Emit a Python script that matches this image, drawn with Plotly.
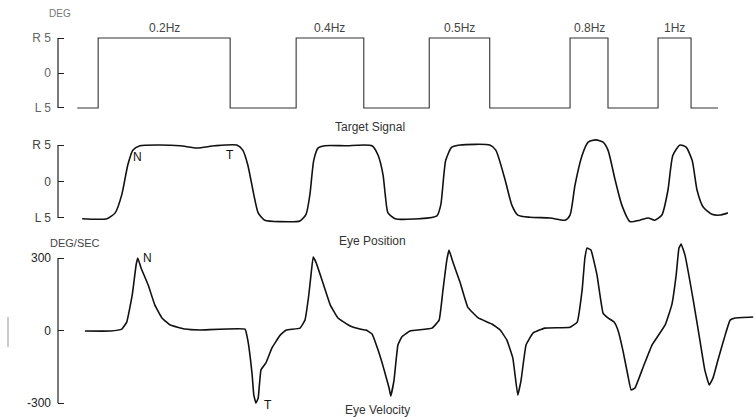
import plotly.graph_objects as go

# ---- data (time in seconds) ----
freq_labels = ["0.2Hz", "0.4Hz", "0.5Hz", "0.8Hz", "1Hz"]

target_t = [0.35, 0.73, 3.13, 4.33, 5.56, 6.75, 7.85, 9.31, 10.0, 10.91, 11.51, 12.0]
target_deg = [-5, 5, -5, 5, -5, 5, -5, 5, -5, 5, -5, -5]

pos_t = [0.44, 0.89, 1.04, 1.16, 1.27, 1.36, 1.49, 1.85, 2.22, 2.53, 2.85, 3.25, 3.36, 3.45,
         3.56, 3.64, 3.76, 4.04, 4.40, 4.51, 4.58, 4.65, 4.73, 4.85, 5.22, 5.71, 5.82, 5.91,
         5.95, 6.00, 6.13, 6.58, 6.89, 6.96, 7.05, 7.16, 7.31, 7.85, 7.96, 8.13, 8.25, 8.36,
         8.58, 8.95, 9.22, 9.31, 9.40, 9.53, 9.64, 9.78, 9.91, 10.0, 10.13, 10.25, 10.40,
         10.58, 10.73, 10.85, 10.98, 11.09, 11.18, 11.31, 11.42, 11.53, 11.62, 11.73, 11.89,
         12.04, 12.18]
pos_deg = [-5.1, -5.1, -4.3, -1.8, 2.3, 4.3, 4.9, 5.0, 4.9, 4.6, 4.9, 5.0, 4.3, 2.3,
           -1.8, -4.3, -5.3, -5.5, -5.4, -4.5, -1.8, 2.9, 4.6, 4.9, 4.9, 4.9, 3.6, 0.9,
           -1.8, -4.3, -5.1, -5.1, -4.7, -3.2, 2.9, 4.7, 5.0, 5.0, 4.3, 0.2, -3.2, -4.6,
           -4.9, -5.0, -5.3, -4.6, -0.5, 3.6, 5.4, 5.7, 5.4, 4.3, 0.2, -3.2, -5.5,
           -5.3, -5.0, -5.3, -4.6, -1.2, 3.6, 5.0, 4.7, 2.9, -1.2, -3.5, -4.5,
           -4.6, -4.3]

vel_t = [0.49, 0.95, 1.16, 1.25, 1.35, 1.42, 1.45, 1.51, 1.64, 1.76, 1.89, 2.04, 2.31, 2.58,
         3.40, 3.45, 3.53, 3.56, 3.60, 3.64, 3.69, 3.78, 3.89, 4.04, 4.15, 4.40, 4.49, 4.56,
         4.60, 4.64, 4.69, 4.80, 4.95, 5.09, 5.31, 5.49, 5.60, 5.71, 5.82, 5.93, 6.02, 6.05,
         6.11, 6.18, 6.25, 6.40, 6.80, 6.93, 7.00, 7.07, 7.11, 7.18, 7.31, 7.45, 7.64, 7.89,
         8.04, 8.16, 8.27, 8.36, 8.42, 8.51, 8.64, 8.85, 9.31, 9.44, 9.53, 9.58, 9.62, 9.69,
         9.80, 9.91, 10.0, 10.11, 10.18, 10.27, 10.36, 10.42, 10.49, 10.64, 10.80, 11.04,
         11.16, 11.24, 11.29, 11.33, 11.40, 11.55, 11.67, 11.76, 11.84, 11.91, 12.0, 12.13,
         12.22, 12.31, 12.64]
vel_dps = [-2, -2, 6, 35, 147, 271, 300, 259, 188, 106, 52, 23, 6, 2,
           6, -39, -184, -267, -300, -279, -163, -134, -72, -19, 2, 10, 43, 147,
           230, 304, 283, 209, 106, 52, 19, 6, 2, -14, -81, -163, -238, -271,
           -205, -60, -27, -2, 10, 43, 168, 292, 333, 283, 200, 97, 52, 27,
           2, -39, -114, -267, -205, -60, -10, 10, 14, 35, 168, 300, 341, 333,
           230, 72, 52, 35, 2, -81, -184, -246, -238, -151, -60, 23,
           106, 230, 341, 358, 312, 126, -39, -163, -225, -196, -122, -19,
           43, 52, 56]

deg_ticks = [-5, 0, 5]
deg_ticktext = ["L 5", "0", "R 5"]
vel_ticks = [-300, 0, 300]
vel_ticktext = ["-300", "0", "300"]

FONT = "Liberation Sans"

fig = go.Figure()
fig.add_trace(go.Scatter(x=target_t, y=target_deg, mode="lines", line_shape="hv",
                         line=dict(color="#333333", width=1.1), yaxis="y", xaxis="x"))
fig.add_trace(go.Scatter(x=pos_t, y=pos_deg, mode="lines", line_shape="spline",
                         line=dict(color="#111111", width=1.6, smoothing=0.6), yaxis="y2", xaxis="x"))
fig.add_trace(go.Scatter(x=vel_t, y=vel_dps, mode="lines", line_shape="spline",
                         line=dict(color="#111111", width=1.6, smoothing=0.3), yaxis="y3", xaxis="x"))

def yax(domain, rng, tv, tt, color):
    return dict(domain=domain, range=rng, anchor="x", tickmode="array", tickvals=tv,
                ticktext=tt, ticks="inside", ticklen=6, tickcolor="#222", tickwidth=1,
                showline=False, showgrid=False, zeroline=False, ticklabelstandoff=6,
                automargin=False,
                tickfont=dict(family=FONT, size=12, color=color))

fig.update_layout(
    width=755, height=420, margin=dict(l=58, r=0, t=0, b=0, autoexpand=False),
    paper_bgcolor="white", plot_bgcolor="white", showlegend=False,
    xaxis=dict(range=[0, 12.673], visible=False, anchor="y3", automargin=False),
    yaxis=yax([0.7379, 0.9145], [-5.3, 5.3], deg_ticks, deg_ticktext, "#666"),
    yaxis2=yax([0.4636, 0.6721], [-6, 6], deg_ticks, deg_ticktext, "#444"),
    yaxis3=yax([0.0231, 0.4260], [-330, 370], vel_ticks, vel_ticktext, "#222"),
)

# bracket-like axis lines between the end ticks
for yr, lo, hi in [("y", -5, 5), ("y2", -5, 5), ("y3", -300, 300)]:
    fig.add_shape(type="line", xref="paper", yref=yr, x0=0, x1=0, y0=lo, y1=hi,
                  line=dict(color="#222", width=1.2))

# frequency labels centred over each pulse
rises = target_t[1:10:2]
falls = target_t[2:11:2]
for lab, r, f in zip(freq_labels, rises, falls):
    fig.add_annotation(x=(r + f) / 2, y=0.9333, xref="x", yref="paper", text=lab,
                       xanchor="center", yanchor="middle",
                       showarrow=False, font=dict(family=FONT, size=12, color="#444"))

def px(xp):
    return (xp - 58) / 697

def py(yp):
    return 1 - yp / 420

for txt, xp, yp, size, col in [
    ("Target Signal", 370, 127, 12, "#333"),
    ("Eye Position", 372, 241, 12, "#333"),
    ("Eye Velocity", 377, 410, 12, "#333"),
    ("DEG", 60, 14, 10, "#777"),
    ("DEG/SEC", 75, 243, 11, "#444"),
]:
    fig.add_annotation(x=px(xp), y=py(yp), xref="paper", yref="paper", text=txt,
                       xanchor="center", yanchor="middle",
                       showarrow=False, font=dict(family=FONT, size=size, color=col))

for txt, x, y, yr in [("N", 1.44, 3.4, "y2"), ("T", 3.13, 3.6, "y2"),
                      ("N", 1.62, 300, "y3"), ("T", 3.82, -308, "y3")]:
    fig.add_annotation(x=x, y=y, xref="x", yref=yr, text=txt, showarrow=False,
                       font=dict(family=FONT, size=12, color="#111"))

# faint scanning mark at the far left
fig.add_shape(type="line", xref="paper", yref="paper", x0=px(8), x1=px(8),
              y0=py(317), y1=py(347), line=dict(color="#999", width=1))

fig.write_html("out.html", config={"displayModeBar": False},
               post_script="document.body.style.margin='0';")
